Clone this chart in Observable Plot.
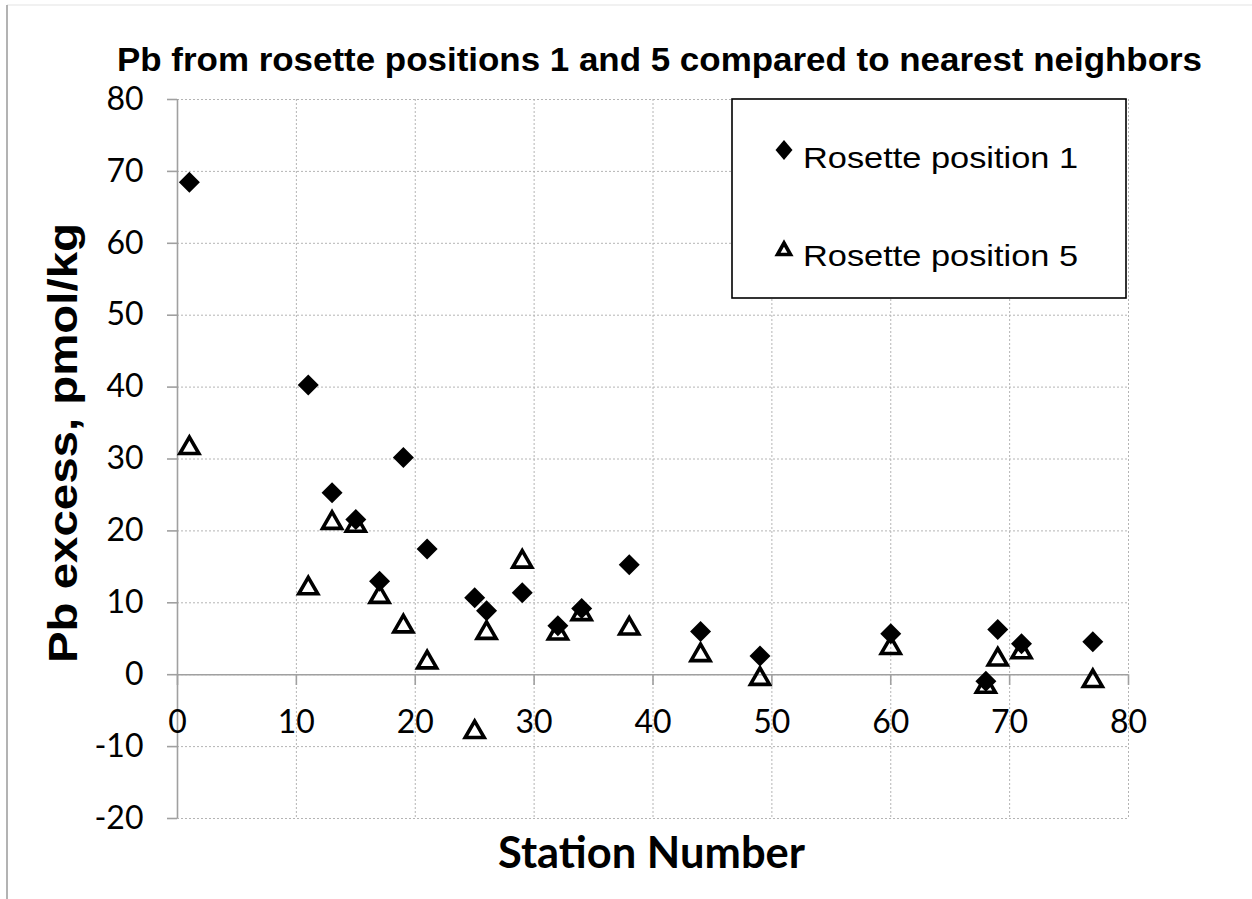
<!DOCTYPE html>
<html><head><meta charset="utf-8">
<script src="https://cdn.jsdelivr.net/npm/d3@7"></script>
<script src="https://cdn.jsdelivr.net/npm/@observablehq/plot@0.6"></script>
<style>html,body{margin:0;padding:0;background:#fff;} #chart{position:relative;width:1252px;height:899px;}</style>
</head><body><div id="chart"></div>
<script>
// ---- data ----
const stations = [1, 11, 13, 15, 17, 19, 21, 25, 26, 29, 32, 34, 38, 44, 49, 60, 68, 69, 71, 77];
const pbPos1 = [68.5, 40.3, 25.3, 21.6, 13.0, 30.2, 17.5, 10.7, 8.9, 11.4, 6.8, 9.2, 15.3, 6.0, 2.6, 5.7, -0.9, 6.3, 4.3, 4.6];
const pbPos5 = [31.9, 12.4, 21.5, 21.1, 11.2, 7.1, 2.1, -7.6, 6.2, 16.1, 6.1, 8.8, 6.8, 3.1, -0.2, 4.1, -1.3, 2.5, 3.5, -0.5];
const xTicks = [0, 10, 20, 30, 40, 50, 60, 70, 80];
const yTicks = [-20, -10, 0, 10, 20, 30, 40, 50, 60, 70, 80];
const seriesNames = ["Rosette position 1", "Rosette position 5"];
const titleText = "Pb from rosette positions 1 and 5 compared to nearest neighbors";
const xLabel = "Station Number";
const yLabel = "Pb excess, pmol/kg";

const pos1 = stations.map((s, i) => ({station: s, pb: pbPos1[i]}));
const pos5 = stations.map((s, i) => ({station: s, pb: pbPos5[i]}));

// custom symbols (size = r*r*PI in Plot)
const diamondSym = {draw(ctx, size) {
  const h = Math.sqrt(size / Math.PI);
  ctx.moveTo(0, -h); ctx.lineTo(h, 0); ctx.lineTo(0, h); ctx.lineTo(-h, 0); ctx.closePath();
}};
const triSym = {draw(ctx, size) {
  const r = Math.sqrt(size / Math.PI);
  const h = r * Math.sqrt(3);
  ctx.moveTo(0, -h / 2); ctx.lineTo(r, h / 2); ctx.lineTo(-r, h / 2); ctx.closePath();
}};

const axisGray = "#a0a0a0";
const gridGray = "#b4b4b4";

const plot = Plot.plot({
  width: 1252, height: 899,
  marginLeft: 177, marginRight: 124, marginTop: 99, marginBottom: 81,
  style: {fontFamily: "Lato", background: "white", color: "black"},
  x: {domain: [0, 80], axis: null},
  y: {domain: [-20, 80]},
  marks: [
    Plot.ruleX(xTicks, {x: d => d, stroke: gridGray, strokeDasharray: "2,2", strokeWidth: 1}),
    Plot.ruleY(yTicks, {y: d => d, stroke: gridGray, strokeDasharray: "2,2", strokeWidth: 1}),
    Plot.ruleX([0], {x: d => d, stroke: axisGray, strokeWidth: 1.6}),
    Plot.ruleY([0], {y: d => d, stroke: axisGray, strokeWidth: 1.6}),
    Plot.ruleX(xTicks, {x: d => d, y1: 0, y2: -1.5, stroke: axisGray, strokeWidth: 1.6}),
    Plot.axisY({ticks: yTicks, tickSize: 10, tickPadding: 24, fontSize: 32, stroke: axisGray, strokeWidth: 1.6, fill: "black", label: null, tickFormat: d => String(d)}),
    Plot.text(xTicks, {x: d => d, y: 0, dy: 48.5, text: d => String(d), fontSize: 32, fill: "black"}),
    Plot.dot(pos1, {x: "station", y: "pb", symbol: diamondSym, r: 10.5, fill: "black", stroke: "none"}),
    Plot.dot(pos5, {x: "station", y: "pb", symbol: triSym, r: 9.5, fill: "none", stroke: "black", strokeWidth: 3.6, strokeLinejoin: "miter"})
  ]
});
document.getElementById("chart").appendChild(plot);

const svg = d3.select(plot);
// image frame
svg.append("line").attr("x1", 7).attr("x2", 1252).attr("y1", 5).attr("y2", 5).attr("stroke", "#ececec").attr("stroke-width", 1.5);
svg.append("line").attr("x1", 7).attr("x2", 7).attr("y1", 5).attr("y2", 899).attr("stroke", "#9a9a9a").attr("stroke-width", 1.5);

// title
svg.append("text").text(titleText)
  .attr("x", 659.5).attr("y", 71).attr("text-anchor", "middle")
  .attr("font-family", "Liberation Sans, Arial, sans-serif").attr("font-weight", "bold").attr("font-size", 33)
  .attr("textLength", 1085).attr("lengthAdjust", "spacingAndGlyphs").attr("fill", "black");

// y label
svg.append("text").text(yLabel)
  .attr("transform", "translate(77,443) rotate(-90)").attr("text-anchor", "middle")
  .attr("font-family", "Liberation Sans, Arial, sans-serif").attr("font-weight", "bold").attr("font-size", 40)
  .attr("textLength", 440).attr("lengthAdjust", "spacingAndGlyphs").attr("fill", "black");

// x label
svg.append("text").text(xLabel)
  .attr("x", 651.5).attr("y", 868).attr("text-anchor", "middle")
  .attr("font-family", "Lato, sans-serif").attr("font-weight", "bold").attr("font-size", 43)
  .attr("textLength", 307).attr("lengthAdjust", "spacingAndGlyphs").attr("fill", "black");

// legend
const lg = svg.append("g");
lg.append("rect").attr("x", 732).attr("y", 99).attr("width", 394).attr("height", 199)
  .attr("fill", "white").attr("stroke", "black").attr("stroke-width", 1.6);
lg.append("path").attr("transform", "translate(784,150)")
  .attr("d", "M0,-10L8.5,0L0,10L-8.5,0Z").attr("fill", "black");
lg.append("path").attr("transform", "translate(784,249.5)")
  .attr("d", "M0,-6.5L6.5,5L-6.5,5Z").attr("fill", "none").attr("stroke", "black").attr("stroke-width", 3.6);
[[seriesNames[0], 168], [seriesNames[1], 266]].forEach(([t, yb]) => {
  lg.append("text").text(t).attr("x", 803).attr("y", yb).attr("text-anchor", "start")
    .attr("font-family", "Liberation Sans, Arial, sans-serif").attr("font-size", 30)
    .attr("textLength", 275).attr("lengthAdjust", "spacingAndGlyphs").attr("fill", "black");
});
</script>
</body></html>
